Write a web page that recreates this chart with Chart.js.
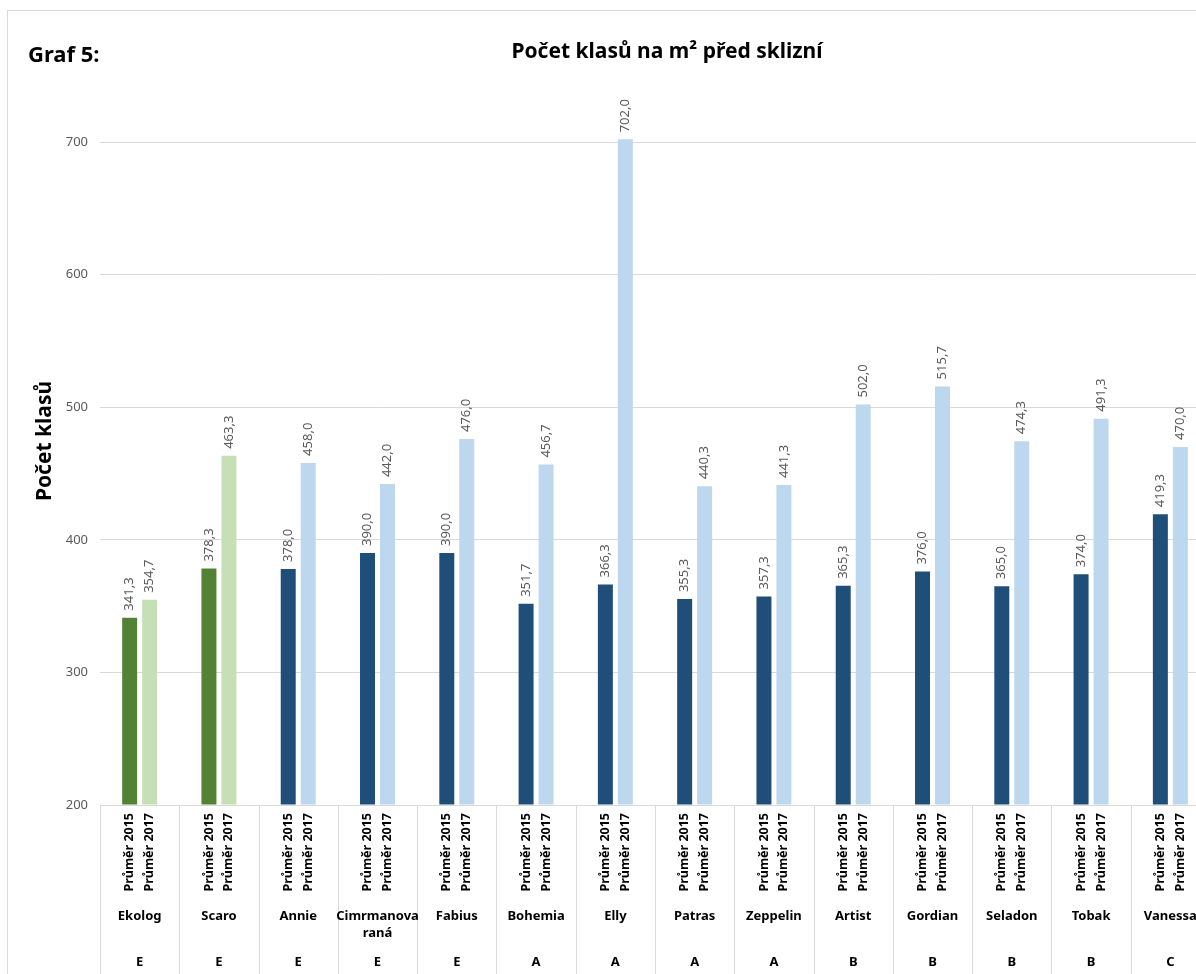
<!DOCTYPE html>
<html>
<head>
<meta charset="utf-8">
<script src="https://cdn.jsdelivr.net/npm/chart.js@4/dist/chart.umd.min.js"></script>
<style>
  html, body { margin: 0; padding: 0; background: #fff; overflow: hidden; }
  #wrap { position: absolute; left: 0; top: 0; width: 1230px; height: 974px; }
</style>
</head>
<body>
<div id="wrap"><canvas id="myChart" width="1230" height="974"></canvas></div>
<script>
// odrůdy (kategorie)
const varieties = ['Ekolog', 'Scaro', 'Annie', ['Cimrmanova', 'raná'], 'Fabius', 'Bohemia', 'Elly',
  'Patras', 'Zeppelin', 'Artist', 'Gordian', 'Seladon', 'Tobak', 'Vanessa'];
// skupiny
const groups = ['E', 'E', 'E', 'E', 'E', 'A', 'A', 'A', 'A', 'B', 'B', 'B', 'B', 'C'];
// řady
const seriesNames = ['Průměr 2015', 'Průměr 2017'];
const avg2015 = [341.3, 378.3, 378.0, 390.0, 390.0, 351.7, 366.3, 355.3, 357.3, 365.3, 376.0, 365.0, 374.0, 419.3];
const avg2017 = [354.7, 463.3, 458.0, 442.0, 476.0, 456.7, 702.0, 440.3, 441.3, 502.0, 515.7, 474.3, 491.3, 470.0];
// osa Y
const yTicks = [200, 300, 400, 500, 600, 700];

const FONT = '"Noto Sans", "Open Sans", sans-serif';
const GREEN_DARK = '#548235', GREEN_LIGHT = '#C5E0B4';
const BLUE_DARK = '#1F4E79', BLUE_LIGHT = '#BDD7EE';

function colors(isDark) {
  return varieties.map(function(v, i) {
    if (i < 2) return isDark ? GREEN_DARK : GREEN_LIGHT;
    return isDark ? BLUE_DARK : BLUE_LIGHT;
  });
}

function fmt(v) {
  return v.toFixed(1).replace('.', ',');
}

// popisky, osa X a titulky
const decor = {
  id: 'decor',
  afterDraw(chart) {
    const ctx = chart.ctx;
    const area = chart.chartArea;
    const x = chart.scales.x;
    const H = chart.height;
    ctx.save();

    // rámeček grafu
    ctx.strokeStyle = '#d9d9d9';
    ctx.lineWidth = 1;
    ctx.strokeRect(7.5, 10.5, 1400, 1400);

    // titulky
    ctx.fillStyle = '#000';
    ctx.textBaseline = 'alphabetic';
    ctx.font = 'bold 22px ' + FONT;
    ctx.textAlign = 'left';
    ctx.fillText('Graf 5:', 28, 62);
    ctx.font = 'bold 21px ' + FONT;
    ctx.textAlign = 'center';
    ctx.fillText('Počet klasů na m² před sklizní', 667, 58);

    ctx.save();
    ctx.translate(45, 441);
    ctx.rotate(-Math.PI / 2);
    ctx.font = 'bold 21px ' + FONT;
    ctx.textAlign = 'center';
    ctx.textBaseline = 'middle';
    ctx.fillText('Počet klasů', 0, 0);
    ctx.restore();

    // hodnoty nad sloupci
    ctx.fillStyle = '#595959';
    ctx.font = '13px ' + FONT;
    chart.data.datasets.forEach(function(ds, di) {
      chart.getDatasetMeta(di).data.forEach(function(bar, i) {
        ctx.save();
        ctx.translate(bar.x, bar.y - 7);
        ctx.rotate(-Math.PI / 2);
        ctx.textAlign = 'left';
        ctx.textBaseline = 'middle';
        ctx.fillText(fmt(ds.data[i]), 0, 0);
        ctx.restore();
      });
    });

    // oddělovače kategorií
    ctx.strokeStyle = '#d9d9d9';
    ctx.lineWidth = 1;
    const step = (x.right - x.left) / varieties.length;
    for (let i = 0; i <= varieties.length; i++) {
      const px = Math.round(x.left + i * step) + 0.5;
      ctx.beginPath();
      ctx.moveTo(px, area.bottom);
      ctx.lineTo(px, H);
      ctx.stroke();
    }

    // názvy řad (svisle)
    ctx.fillStyle = '#000';
    ctx.font = 'bold 12.5px ' + FONT;
    chart.data.datasets.forEach(function(ds, di) {
      chart.getDatasetMeta(di).data.forEach(function(bar) {
        ctx.save();
        ctx.translate(bar.x, area.bottom + 8);
        ctx.rotate(-Math.PI / 2);
        ctx.textAlign = 'right';
        ctx.textBaseline = 'middle';
        ctx.fillText(seriesNames[di], 0, 0);
        ctx.restore();
      });
    });

    // odrůdy a skupiny
    ctx.font = 'bold 13px ' + FONT;
    ctx.textAlign = 'center';
    ctx.textBaseline = 'middle';
    varieties.forEach(function(name, i) {
      const cx = x.getPixelForValue(i);
      const lines = Array.isArray(name) ? name : [name];
      lines.forEach(function(t, li) {
        ctx.fillText(t, cx, 916 + li * 17);
      });
      ctx.fillText(groups[i], cx, 962);
    });

    ctx.restore();
  }
};

const config = {
  type: 'bar',
  data: {
    labels: varieties,
    datasets: [{
      label: seriesNames[0],
      data: avg2015,
      backgroundColor: colors(true),
      categoryPercentage: 0.504,
      barPercentage: 0.75,
      base: 200,
      clip: false
    }, {
      label: seriesNames[1],
      data: avg2017,
      backgroundColor: colors(false),
      categoryPercentage: 0.504,
      barPercentage: 0.75,
      base: 200,
      clip: false
    }]
  },
  options: {
    responsive: false,
    animation: false,
    devicePixelRatio: 1,
    layout: { padding: { top: 142, right: 20, bottom: 169, left: 0 } },
    plugins: {
      legend: { display: false },
      tooltip: { enabled: false },
      title: { display: false }
    },
    scales: {
      x: { display: false },
      y: {
        min: 200,
        max: 700,
        afterFit: function(scale) { scale.width = 100; },
        afterBuildTicks: function(scale) {
          scale.ticks = yTicks.map(function(v) { return { value: v }; });
        },
        border: { display: false },
        grid: { color: '#d9d9d9', drawTicks: false },
        ticks: {
          padding: 12,
          color: '#595959',
          font: { family: FONT, size: 13 }
        }
      }
    }
  },
  plugins: [decor]
};

const myChart = new Chart(document.getElementById('myChart'), config);
</script>
</body>
</html>
